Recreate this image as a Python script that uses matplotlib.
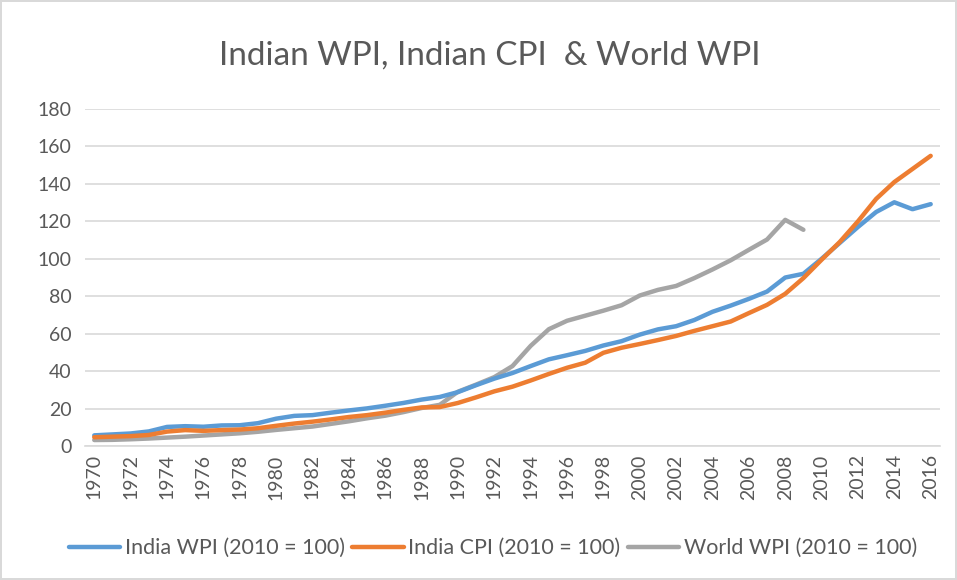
import numpy as np
import matplotlib
matplotlib.use("Agg")
import matplotlib.pyplot as plt

plt.rcParams['font.family'] = ['Lato', 'DejaVu Sans']

# years on the category axis
years = list(range(1970, 2017))

# India WPI (2010 = 100)
india_wpi = [5.7, 6.2, 6.7, 7.8, 10.2, 10.6, 10.3, 11.0, 11.1, 12.2,
             14.6, 16.1, 16.5, 17.8, 19.0, 20.1, 21.5, 23.0, 24.8, 26.2,
             28.8, 32.5, 36.0, 39.0, 42.7, 46.3, 48.5, 50.8, 53.7, 56.0,
             59.5, 62.3, 64.0, 67.3, 71.7, 75.0, 78.6, 82.5, 90.0, 92.0,
             100.0, 108.5, 117.0, 125.0, 130.2, 126.5, 129.2]

# India CPI (2010 = 100)
india_cpi = [4.7, 5.0, 5.3, 5.9, 7.7, 8.5, 8.1, 8.5, 8.8, 9.5,
             10.8, 12.0, 13.0, 14.2, 15.5, 16.5, 17.8, 19.3, 20.6, 20.8,
             23.0, 26.0, 29.2, 31.7, 35.0, 38.5, 41.8, 44.5, 49.8, 52.5,
             54.5, 56.6, 58.8, 61.5, 64.0, 66.5, 71.0, 75.4, 81.3, 89.7,
             99.5, 109.0, 120.0, 132.0, 141.0, 148.0, 155.0]

# World WPI (2010 = 100), series ends in 2009
world_wpi = [3.2, 3.3, 3.6, 4.0, 4.5, 5.0, 5.6, 6.2, 6.8, 7.6,
             8.6, 9.5, 10.4, 11.8, 13.2, 14.8, 16.2, 18.1, 20.3, 22.0,
             29.0, 32.8, 36.8, 42.7, 53.5, 62.4, 66.9, 69.6, 72.3, 75.2,
             80.4, 83.4, 85.5, 89.7, 94.3, 99.2, 104.8, 110.3, 120.8, 115.5]

text_col = '#595959'
grid_col = '#D9D9D9'

fig = plt.figure(figsize=(9.57, 5.8), dpi=100)
fig.patch.set_edgecolor('#D9D9D9')
fig.patch.set_linewidth(1.5)
ax = fig.add_axes([0.089, 0.231, 0.893, 0.581])

ax.plot(years, india_wpi, color='#5B9BD5', lw=3.2, solid_capstyle='round',
        label='India WPI (2010 = 100)', zorder=3)
ax.plot(years, india_cpi, color='#ED7D31', lw=3.2, solid_capstyle='round',
        label='India CPI (2010 = 100)', zorder=3)
ax.plot(years[:len(world_wpi)], world_wpi, color='#A5A5A5', lw=3.2,
        solid_capstyle='round', label='World WPI (2010 = 100)', zorder=2)

ax.set_xlim(1969.5, 2016.5)
ax.set_ylim(0, 180)
ax.set_yticks(np.arange(0, 181, 20))
ax.set_xticks(years[::2])
ax.set_xticklabels([str(y) for y in years[::2]], rotation=90)
ax.tick_params(axis='both', length=0, labelsize=14, colors=text_col)
ax.tick_params(axis='x', pad=6)
ax.tick_params(axis='y', pad=10)

ax.grid(axis='y', color=grid_col, lw=1.2)
ax.set_axisbelow(True)
for s in ['top', 'right', 'left']:
    ax.spines[s].set_visible(False)
ax.spines['bottom'].set_color(grid_col)
ax.spines['bottom'].set_linewidth(1.2)

fig.text(0.512, 0.905, 'Indian WPI, Indian CPI  & World WPI', ha='center',
         va='center', fontsize=24, color=text_col)

fig.legend(loc='center', bbox_to_anchor=(0.515, 0.055), ncol=3, frameon=False,
           fontsize=15.5, labelcolor=text_col, handlelength=2.4,
           handletextpad=0.2, columnspacing=0.35)

fig.savefig('out.png', dpi=100)
